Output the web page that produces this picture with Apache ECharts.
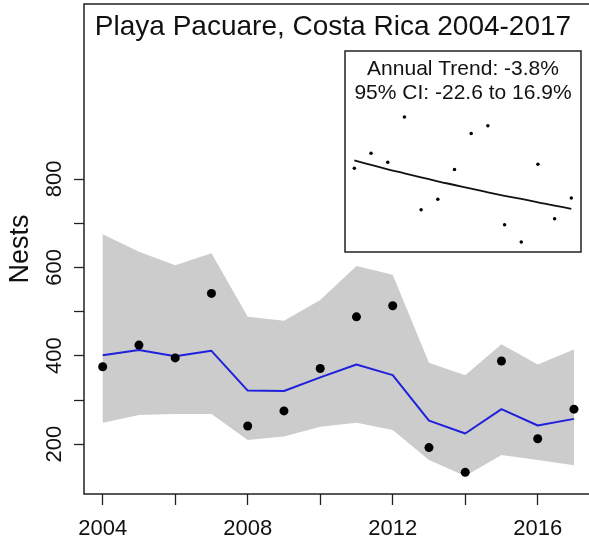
<!DOCTYPE html>
<html>
<head>
<meta charset="utf-8">
<script src="https://cdn.jsdelivr.net/npm/echarts@6/dist/echarts.min.js"></script>
<style>html,body{margin:0;padding:0;background:#fff;}</style>
</head>
<body>
<div id="nestChart" style="width:589px;height:546px;"></div>
<script>
var years  = [2004,2005,2006,2007,2008,2009,2010,2011,2012,2013,2014,2015,2016,2017];
var nests  = [375,424,395,541,241,275,371,488,513,192,136,388,212,279];
var fitted = [401,413,399,411,321,320,351,380,356,253,224,279,242,257];
var ciLow  = [248,266,268,268,209,217,239,248,232,164,128,175,164,152];
var ciHigh = [675,635,605,632,488,479,526,603,583,384,356,426,380,414];
// trend curve
var trend  = [401,386,372,359,346,333,321,309,297,286,276,265,254,244];

var yTicks  = [200,300,400,500,600,700,800];
var yLabels = [200,400,600,800];
var xTicks  = [2004,2006,2008,2010,2012,2014,2016];
var xLabels = [2004,2008,2012,2016];

var font = 'Liberation Sans, Arial, sans-serif';

function pairs(vals) {
    var out = [];
    for (var i = 0; i < years.length; i++) out.push([years[i], vals[i]]);
    return out;
}

// gray confidence band: upper edge forward, lower edge back
function renderBand(params, api) {
    if (params.dataIndex !== 0) return;
    var pts = [];
    for (var i = 0; i < years.length; i++) pts.push(api.coord([years[i], ciHigh[i]]));
    for (var j = years.length - 1; j >= 0; j--) pts.push(api.coord([years[j], ciLow[j]]));
    return {type: 'polygon', shape: {points: pts}, style: {fill: '#cccccc'}, silent: true};
}

var myChart = echarts.init(document.getElementById('nestChart'));
var option = {
    animation: false,
    backgroundColor: '#fff',
    textStyle: {fontFamily: font},
    grid: [
        {left: 84, top: 4, width: 509, height: 490, outerBoundsMode: 'none', containLabel: false,
            show: true, borderColor: '#222', borderWidth: 1.5, backgroundColor: 'transparent'},
        {left: 345, top: 51, width: 236, height: 201, outerBoundsMode: 'none', containLabel: false,
            show: true, borderColor: '#222', borderWidth: 1.5, backgroundColor: '#fff', z: 5}
    ],
    xAxis: [
        {
            type: 'value', gridIndex: 0, min: 2003.484, max: 2017.525,
            axisLine: {show: false}, splitLine: {show: false},
            axisTick: {show: true, length: 11, customValues: xTicks, lineStyle: {color: '#222', width: 1.3}},
            axisLabel: {customValues: xLabels, margin: 24, fontSize: 22, color: '#111', fontFamily: font,
                formatter: function (v) { return String(v); }}
        },
        {type: 'value', gridIndex: 1, min: 2003.44, max: 2017.58, show: false, splitLine: {show: false}}
    ],
    yAxis: [
        {
            type: 'value', gridIndex: 0, min: 87, max: 1196,
            name: 'Nests', nameLocation: 'middle', nameRotate: 90, nameGap: 50,
            nameTextStyle: {fontSize: 27, color: '#111', fontFamily: font},
            axisLine: {show: false}, splitLine: {show: false},
            axisTick: {show: true, length: 10, customValues: yTicks, lineStyle: {color: '#222', width: 1.3}},
            axisLabel: {customValues: yLabels, rotate: 90, margin: 18, fontSize: 22, color: '#111', fontFamily: font,
                formatter: function (v) { return String(v); }}
        },
        {type: 'value', gridIndex: 1, min: 104, max: 755, show: false, splitLine: {show: false}}
    ],
    graphic: [
        {type: 'text', z: 10, style: {x: 333, y: 27, text: 'Playa Pacuare, Costa Rica 2004-2017', fill: '#111',
            font: '28px ' + font, textAlign: 'center', textVerticalAlign: 'middle'}},
        {type: 'text', z: 10, style: {x: 463, y: 69, text: 'Annual Trend: -3.8%', fill: '#111',
            font: '21px ' + font, textAlign: 'center', textVerticalAlign: 'middle'}},
        {type: 'text', z: 10, style: {x: 463, y: 93, text: '95% CI: -22.6 to 16.9%', fill: '#111',
            font: '21px ' + font, textAlign: 'center', textVerticalAlign: 'middle'}}
    ],
    series: [
        {
            type: 'custom', xAxisIndex: 0, yAxisIndex: 0, silent: true, z: 1,
            renderItem: renderBand, data: [0]
        },
        {
            type: 'line', xAxisIndex: 0, yAxisIndex: 0, showSymbol: false, silent: true,
            lineStyle: {color: '#2020dc', width: 2}, data: pairs(fitted), z: 3
        },
        {
            type: 'scatter', xAxisIndex: 0, yAxisIndex: 0, symbolSize: 9, silent: true,
            itemStyle: {color: '#000', opacity: 1}, data: pairs(nests), z: 4
        },
        {
            type: 'scatter', xAxisIndex: 1, yAxisIndex: 1, symbolSize: 3.5, silent: true,
            itemStyle: {color: '#000', opacity: 1}, data: pairs(nests), z: 6
        },
        {
            type: 'line', xAxisIndex: 1, yAxisIndex: 1, showSymbol: false, silent: true, smooth: true,
            lineStyle: {color: '#111', width: 1.8}, data: pairs(trend), z: 6
        }
    ]
};
myChart.setOption(option);
</script>
</body>
</html>
